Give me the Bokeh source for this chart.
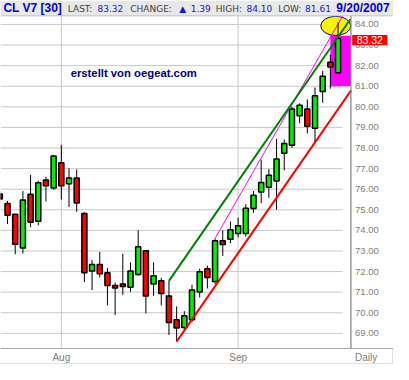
from bokeh.plotting import figure
from bokeh.models import Range1d, ColumnDataSource
from bokeh.core.properties import value
from bokeh.embed import file_html
from bokeh.resources import INLINE

# ---------------- data ----------------
symbol = "CL V7 [30]"
date_str = "9/20/2007"
watermark = "erstellt von oegeat.com"
period = "Daily"

opens = [75.77, 75.30, 74.78, 73.15, 75.75, 74.45, 76.45, 76.06, 77.29, 76.27,
         76.54, 74.82, 72.03, 72.34, 71.94, 71.33, 71.40, 71.24, 71.86, 73.01,
         71.40, 71.55, 70.82, 69.66, 69.29, 69.66, 71.01, 72.14, 71.52, 73.50,
         73.57, 73.85, 73.85, 75.06, 75.86, 76.09, 76.40, 77.75, 78.13, 79.57,
         79.89, 78.96, 80.74, 82.17, 81.65]
highs = [75.90, 75.43, 74.80, 75.91, 76.70, 76.42, 76.60, 77.67, 78.14, 77.02,
         76.96, 74.88, 72.56, 72.96, 72.17, 71.47, 72.87, 72.45, 74.00, 73.05,
         72.45, 71.70, 71.55, 70.31, 70.08, 71.36, 72.14, 72.29, 73.61, 74.00,
         74.43, 74.62, 75.27, 75.91, 77.44, 76.98, 78.45, 78.42, 80.01, 80.17,
         80.36, 80.94, 81.75, 82.53, 84.10]
lows = [75.40, 74.31, 72.84, 72.88, 74.15, 74.25, 75.40, 75.97, 75.50, 75.13,
        74.90, 71.49, 71.10, 71.72, 70.36, 69.89, 70.87, 71.02, 71.80, 69.97,
        70.82, 70.36, 68.92, 68.60, 69.12, 69.53, 70.74, 71.18, 71.40, 72.76,
        73.38, 73.66, 73.70, 74.85, 75.32, 75.58, 75.01, 76.92, 78.00, 79.20,
        78.71, 78.27, 80.20, 80.88, 81.61]
closes = [75.52, 74.73, 73.33, 75.47, 74.39, 76.31, 76.17, 77.61, 76.17, 76.54,
          75.33, 71.94, 72.34, 71.89, 71.33, 71.20, 71.27, 72.03, 73.20, 70.82,
          71.80, 70.93, 69.53, 69.26, 69.85, 71.10, 71.99, 71.71, 73.50, 73.32,
          74.03, 74.22, 75.08, 75.71, 76.33, 76.68, 77.47, 78.22, 79.89, 80.08,
          79.06, 80.54, 81.49, 81.93, 83.32]

month_idx = [8, 31]
month_labels = ["Aug", "Sep"]
y_ticks = [69, 70, 71, 72, 73, 74, 75, 76, 77, 78, 79, 80, 81, 82, 83, 84]

# hand-drawn annotations (bar-index / price units)
green_x = [22, 45.6]
green_y = [highs[22], 84.25]
red_x = [23, 45.7]
red_y = [lows[23], 80.80]
pink_x = [28, 44.6]
pink_y = [highs[28], 84.42]
zone_left, zone_right, zone_bottom, zone_top = 43.0, 45.675, 81.0, 83.45
oval_x, oval_y, oval_w, oval_h = 43.7, 83.93, 3.9, 0.93

# ---------------- layout helpers (reference-pixel grid -> data space) ----------------
def x_of(px):
    return (px + 0.7) / 8.0

def y_of(py):
    return 84.0 - (py - 25.0) / 21.5

FX0, FX1 = x_of(0), x_of(364.7)      # plot frame
FY0, FY1 = y_of(363.3), y_of(16)

p = figure(width=393, height=364, x_range=Range1d(x_of(0), x_of(409)),
           y_range=Range1d(y_of(380), y_of(0)), x_axis_location=None,
           y_axis_location=None, min_border=0, output_backend="svg",
           toolbar_location=None, outline_line_color=None,
           background_fill_color="white", border_fill_color="white")
p.grid.visible = False

GRID = "#c8c8c8"
LABEL = "#808080"

# grid lines
p.segment(x0=[FX0] * len(y_ticks), x1=[x_of(356)] * len(y_ticks), y0=y_ticks, y1=y_ticks,
          line_color=GRID, line_width=1)
p.segment(x0=month_idx, x1=month_idx, y0=[FY0] * len(month_idx), y1=[FY1] * len(month_idx),
          line_color=GRID, line_width=1)

# highlighted zone and oval
p.quad(left=[zone_left], right=[zone_right], bottom=[zone_bottom], top=[zone_top],
       fill_color="#ff00ff", line_color=None)
p.ellipse(x=[oval_x], y=[oval_y], width=[oval_w], height=[oval_h],
          fill_color="#f5f500", line_color="#000080", line_width=1)

# candles
n = len(closes)
src = ColumnDataSource(dict(
    x=list(range(n)), high=highs, low=lows,
    top=[max(o, c) for o, c in zip(opens, closes)],
    bottom=[min(o, c) for o, c in zip(opens, closes)],
    color=["#00f000" if c >= o else "#ff0000" for o, c in zip(opens, closes)],
))
p.segment(x0="x", y0="low", x1="x", y1="high", source=src, line_color="black", line_width=1)
p.vbar(x="x", width=0.66, top="top", bottom="bottom", source=src,
       fill_color="color", line_color="black", line_width=1.5)

# trend lines
p.line(x=pink_x, y=pink_y, line_color="#ff00ff", line_width=1)
p.line(x=green_x, y=green_y, line_color="#008000", line_width=2)
p.line(x=red_x, y=red_y, line_color="#ff0000", line_width=2)

# frame lines
p.segment(x0=[x_of(0)], x1=[x_of(409)], y0=[FY0], y1=[FY0], line_color="#a8a8a8", line_width=1)
p.segment(x0=[FX1], x1=[FX1], y0=[FY0], y1=[FY1], line_color="#808080", line_width=1.2)
p.segment(x0=[x_of(0)], x1=[x_of(409)], y0=[y_of(379.5)], y1=[y_of(379.5)],
          line_color="#c0c0c0", line_width=1)
p.segment(x0=[x_of(408.5)], x1=[x_of(408.5)], y0=[FY0], y1=[y_of(380)],
          line_color="#c0c0c0", line_width=1)

# right price scale labels
p.text(x=[x_of(369)] * len(y_ticks), y=y_ticks, text=[f"{t:.2f}" for t in y_ticks],
       text_color=LABEL, text_font=value("Liberation Sans"), text_font_size=value("9.5px"),
       text_baseline="middle", text_align="left")

# last price box
last = closes[-1]
p.quad(left=[x_of(366)], right=[x_of(402.7)], bottom=[last - 0.33], top=[last + 0.17],
       fill_color="#ff0000", line_color=None)
p.text(x=[x_of(384.3)], y=[last - 0.08], text=[f"{last:.2f}"], text_color="white",
       text_font=value("Liberation Sans"), text_font_size=value("10.5px"),
       text_baseline="middle", text_align="center")

# month labels and period
p.text(x=month_idx, y=[y_of(373)] * len(month_idx), text=month_labels, text_color=LABEL,
       text_font=value("Liberation Sans"), text_font_size=value("10px"),
       text_baseline="middle", text_align="center")
p.text(x=[x_of(369)], y=[y_of(372.5)], text=[period], text_color=LABEL,
       text_font=value("Liberation Sans"), text_font_size=value("10px"),
       text_baseline="middle", text_align="left")

# watermark
p.text(x=[x_of(73)], y=[y_of(76)], text=[watermark], text_color="#000080",
       text_font=value("Liberation Sans"), text_font_style="bold",
       text_font_size=value("11.3px"), text_baseline="middle", text_align="left")

# header strip
p.quad(left=[x_of(0)], right=[x_of(409)], bottom=[FY1], top=[y_of(0)],
       fill_color="#e8e8e8", line_color=None)
p.segment(x0=[x_of(0)], x1=[x_of(409)], y0=[FY1], y1=[FY1], line_color="#c0c0c0", line_width=1)

change = closes[-1] - closes[-2]
blue = "#1414d2"
grey = "#3c3c3c"
h_texts = ["LAST:", f"{last:.2f}", "CHANGE:", "\u25B2", f"{change:.2f}",
           "HIGH:", f"{highs[-1]:.2f}", "LOW:", f"{lows[-1]:.2f}"]
h_px = [70, 101, 135, 186, 198, 224, 256, 289, 317]
h_col = [grey, blue, grey, blue, blue, grey, blue, grey, blue]
hsrc = ColumnDataSource(dict(x=[x_of(v) for v in h_px], y=[y_of(8.5)] * len(h_px),
                             text=h_texts, color=h_col))
p.text(x="x", y="y", text="text", source=hsrc, text_color="color",
       text_font=value("DejaVu Sans"), text_font_size=value("9px"),
       text_baseline="middle", text_align="left")
p.text(x=[x_of(3)], y=[y_of(8)], text=[symbol], text_color="#0000dd",
       text_font=value("Liberation Sans"), text_font_style="bold",
       text_font_size=value("12px"), text_baseline="middle", text_align="left")
p.text(x=[x_of(405)], y=[y_of(8)], text=[date_str], text_color="#0000dd",
       text_font=value("Liberation Sans"), text_font_style="bold",
       text_font_size=value("12px"), text_baseline="middle", text_align="right")

open("out.html", "w").write(file_html(p, INLINE))
